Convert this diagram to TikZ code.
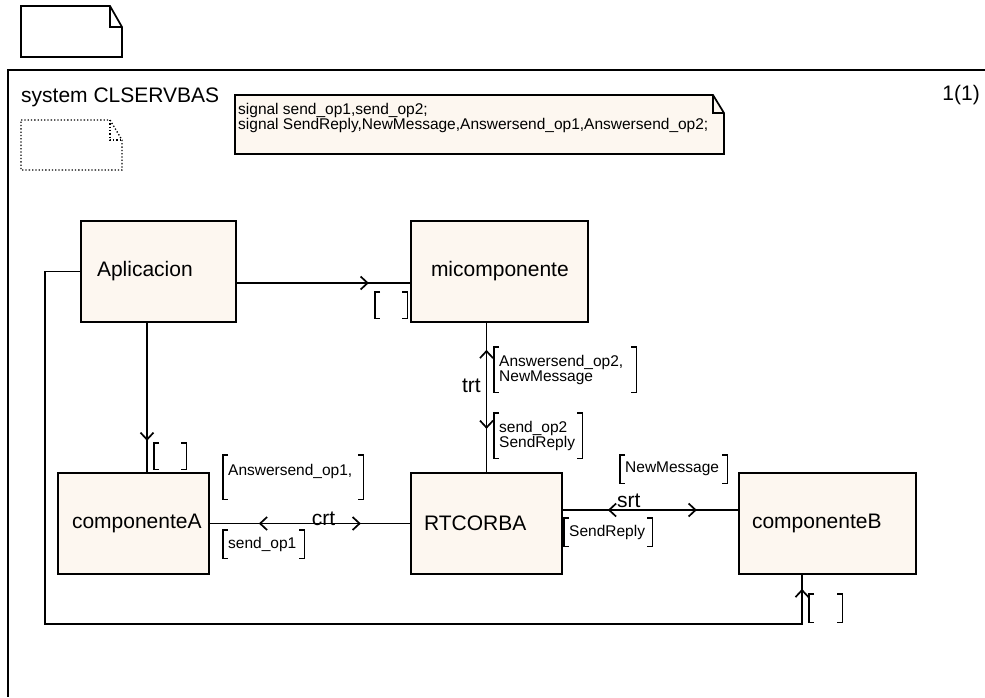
\documentclass[tikz,border=0pt]{standalone}
\usepackage{fontspec}
\setmainfont{Liberation Sans}
\usetikzlibrary{arrows.meta,decorations.markings,backgrounds}
\definecolor{boxfill}{RGB}{253,247,240}
\newcommand\lblfont{\fontsize{21}{24}\selectfont}
\newcommand\sigfont{\fontsize{15.5}{15}\selectfont}
\newcommand\declfont{\fontsize{15.5}{14}\selectfont}
% square brackets drawn around a signal-list node
\newcommand\sigbrackets[1]{%
  \draw[brk] ([xshift=5pt]#1.north west) -- (#1.north west) -- (#1.south west) -- ([xshift=5pt]#1.south west);
  \draw[brk] ([xshift=-5pt]#1.north east) -- (#1.north east) -- (#1.south east) -- ([xshift=-5pt]#1.south east);}
\tikzset{
  chevron/.tip={Straight Barb[length=7pt,width=13pt]},
  block/.style={draw, fill=boxfill, line width=1.7pt, font=\lblfont, minimum height=101pt, align=left, inner ysep=0pt},
  conn/.style={line width=1.7pt},
  brk/.style={line width=1.5pt},
  sigset/.style={anchor=north west, font=\sigfont, align=left, inner xsep=5pt, inner ysep=0pt},
  chanlabel/.style={font=\lblfont, inner sep=0pt},
  fwd at/.style={postaction={decorate, decoration={markings, mark=at position #1 with {\arrow{chevron}}}}},
  back at/.style={postaction={decorate, decoration={markings, mark=at position #1 with {\arrowreversed{chevron}}}}},
}
\begin{document}
\begin{tikzpicture}[x=1pt, y=-1pt]
\useasboundingbox (0,0) rectangle (985,697);

% page symbol above the frame
\draw[line width=1.7pt] (21,6) -- (110,6) -- (122,27) -- (122,57) -- (21,57) -- cycle;
\draw[line width=1.3pt] (110,6) |- (122,27);

% system frame
\draw[line width=1.7pt] (985,70) -- (8,70) -- (8,697);
\node[font=\lblfont, anchor=base west, inner sep=0pt] (sysname) at (21,102) {system CLSERVBAS};
\node[font=\lblfont, anchor=base east, inner sep=0pt] (pagenum) at (980,100) {1(1)};

% dotted page symbol
\draw[dotted, line width=1.3pt] (21,120) -- (110,120) -- (122,140) -- (122,170) -- (21,170) -- cycle;
\draw[dotted, line width=1.3pt] (110,120) |- (122,140);

% signal declarations
\node[anchor=north west, font=\declfont, align=left, inner sep=0pt] (decl) at (238,103)
  {signal send\_op1,send\_op2;\\signal SendReply,NewMessage,Answersend\_op1,Answersend\_op2;};
\begin{scope}[on background layer]
  \draw[line width=1.7pt, fill=boxfill] (235,95) -- (713,95) -- (724,113) -- (724,154) -- (235,154) -- cycle;
  \draw[line width=1.3pt] (713,95) |- (724,113);
\end{scope}

% blocks
\node[block, minimum width=155pt, inner xsep=16pt, text width=123pt] (Aplicacion) at (158.5,271.5) {Aplicacion};
\node[block, minimum width=177pt, inner xsep=20pt, text width=137pt, align=center] (micomponente) at (499.5,271.5) {micomponente};
\node[block, minimum width=151pt, inner xsep=14pt, text width=123pt] (componenteA) at (133.5,523.5) {componenteA};
\node[block, minimum width=151pt, inner xsep=13pt, text width=125pt] (RTCORBA) at (486.5,523.5) {RTCORBA};
\node[block, minimum width=177pt, inner xsep=13pt, text width=151pt] (componenteB) at (827.5,523.5) {componenteB};

% routing coordinates
\coordinate (amy) at (0,283);
\coordinate (aax) at (147,0);
\coordinate (sy) at (0,510);
\coordinate (loopTL) at (45,271.5);
\coordinate (loopBL) at (45,624);
\coordinate (loopBR) at (802,624);

% Aplicacion -> micomponente
\draw[conn, fwd at=132pt] (Aplicacion.east |- amy) -- (micomponente.west |- amy);
\node[sigset, minimum width=32pt, minimum height=26pt] (sAM) at (375,292) {};
\sigbrackets{sAM}

% Aplicacion -> componenteA
\draw[conn, fwd at=118pt] (Aplicacion.south -| aax) -- (componenteA.north -| aax);
\node[sigset, minimum width=32pt, minimum height=26pt] (sAA) at (154,443) {};
\sigbrackets{sAA}

% Aplicacion -> componenteB
\draw[conn, fwd at=-14pt] (Aplicacion.west) -- (loopTL) -- (loopBL) -- (loopBR) -- (componenteB.south -| loopBR);
\node[sigset, minimum width=33pt, minimum height=28pt] (sAB) at (809,594) {};
\sigbrackets{sAB}

% channel trt
\draw[conn, back at=27pt, fwd at=106pt] (RTCORBA.north |- micomponente.south) -- (RTCORBA.north);
\node[chanlabel, anchor=base east] (trt) at (481,392) {trt};
\node[sigset, text width=132pt, minimum height=45pt] (trtUp) at (494,347) {Answersend\_op2,\\NewMessage};
\sigbrackets{trtUp}
\node[sigset, text width=78pt, minimum height=45pt] (trtDown) at (494,413) {send\_op2\\SendReply};
\sigbrackets{trtDown}

% channel crt
\draw[conn, back at=49pt, fwd at=151pt] (componenteA.east) -- (RTCORBA.west);
\node[chanlabel, anchor=base] (crt) at (323.5,525) {crt};
\node[sigset, text width=130pt, minimum height=44pt] (crtUp) at (223,455) {Answersend\_op1,\\\mbox{}};
\sigbrackets{crtUp}
\node[sigset, text width=71pt, minimum height=28pt] (crtDown) at (223,530) {send\_op1};
\sigbrackets{crtDown}

% channel srt
\draw[conn, back at=45pt, fwd at=134pt] (RTCORBA.east |- sy) -- (componenteB.west |- sy);
\node[chanlabel, anchor=base west] (srt) at (617,507) {srt};
\node[sigset, text width=97pt, minimum height=28pt] (srtUp) at (620,455) {NewMessage};
\sigbrackets{srtUp}
\node[sigset, text width=78pt, minimum height=28pt] (srtDown) at (564,518) {SendReply};
\sigbrackets{srtDown}
\end{tikzpicture}
\end{document}
